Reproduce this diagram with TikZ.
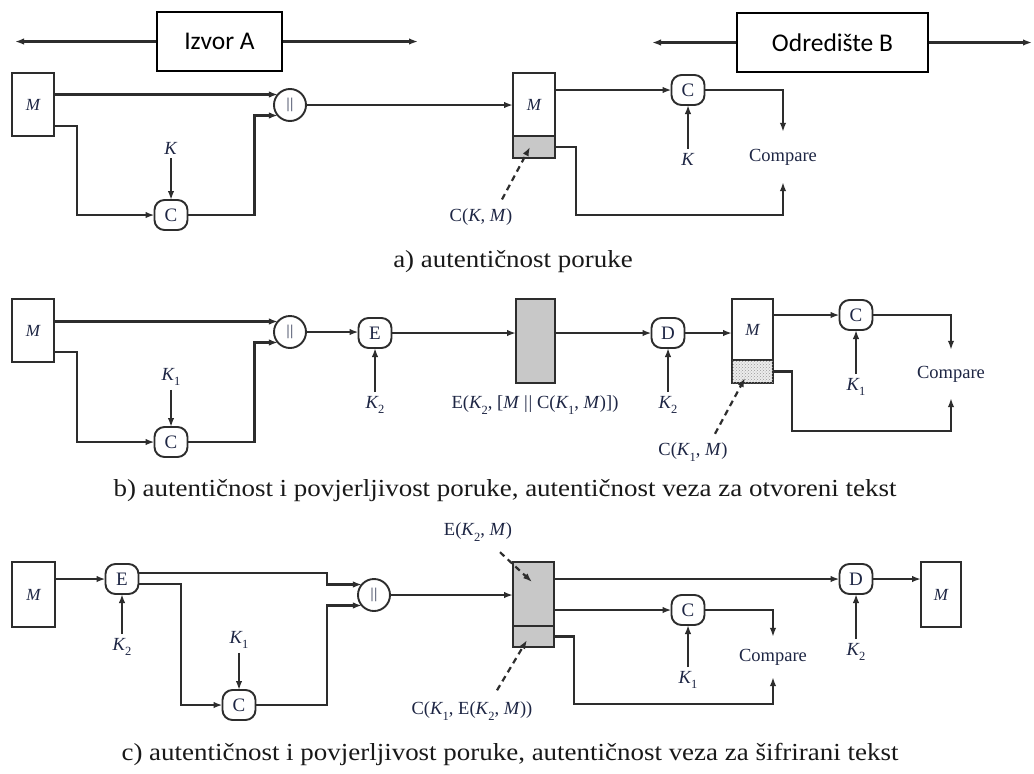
\documentclass[tikz,border=0pt]{standalone}
\usepackage{fontspec}
\setmainfont{Liberation Serif}
\newfontfamily\hdrfont{Carlito}
\newfontfamily\capfont[FakeStretch=1.1]{Liberation Serif}
\usetikzlibrary{arrows.meta,patterns}
\definecolor{ln}{RGB}{45,45,45}
\definecolor{tx}{RGB}{30,38,68}
\definecolor{gr}{RGB}{200,200,200}
\newcommand{\lbl}{\fontsize{18.5}{20}\selectfont}
\newcommand{\sbs}[1]{\raisebox{-0.28em}{\fontsize{12.5}{13}\selectfont #1}}
\newcommand{\Kx}[1]{\textit{K}\kern-0.5pt\sbs{#1}}
\newcommand{\Mi}{\textit{M}}
\newcommand{\bars}{|\kern0.8pt|}
\begin{document}
\begin{tikzpicture}[x=1pt,y=-1pt,
  line/.style={draw=ln,line width=2.2pt},
  arr/.style={line,-{Latex[length=9pt,width=6.5pt]}},
  dsh/.style={arr,dash pattern=on 6pt off 4.5pt},
  msg/.style={draw=ln,line width=1.9pt,fill=white,minimum width=42pt,minimum height=63pt,inner sep=0pt,outer sep=0pt,font=\fontsize{17}{17}\selectfont\itshape,text=tx},
  grbox/.style={draw=ln,line width=1.9pt,fill=gr,inner sep=0pt,outer sep=0pt},
  hatch/.style={draw=ln,line width=1.9pt,fill=gray!15,postaction={pattern=crosshatch dots,pattern color=gray!80},inner sep=0pt,outer sep=0pt},
  opn/.style={draw=ln,line width=1.9pt,rounded corners=10pt,minimum width=33pt,minimum height=30pt,inner sep=0pt,outer sep=0pt,font=\fontsize{19}{19}\selectfont,text=tx},
  cat/.style={circle,draw=ln,line width=1.9pt,minimum size=32pt,inner sep=0pt,outer sep=0pt,font=\fontsize{15}{15}\selectfont,text=tx},
  lab/.style={font=\lbl,text=tx,inner sep=4pt},
  cmp/.style={font=\lbl,text=tx,inner sep=0pt,minimum width=80pt},
  hdr/.style={draw=black,line width=1.8pt,minimum height=59pt,font=\hdrfont\fontsize{25.5}{26}\selectfont,inner sep=0pt},
  captxt/.style={font=\capfont\fontsize{24.5}{26}\selectfont,text=black!90}
]
\useasboundingbox (0,0) rectangle (1034,774);
\fill[white] (0,0) rectangle (1034,774);

% ---------- header
\node[hdr,minimum width=125pt] (A) at (219.5,41.5) {Izvor A};
\coordinate (Al) at (15,41.5);
\coordinate (Ar) at (418,41.5);
\draw[arr] (A.west) -- (Al);
\draw[arr] (A.east) -- (Ar);
\node[hdr,minimum width=191pt] (B) at (832.5,42.5) {Odredište B};
\coordinate (Bl) at (652,42.5);
\coordinate (Br) at (1032,42.5);
\draw[arr] (B.west) -- (Bl);
\draw[arr] (B.east) -- (Br);

% ---------- part a
\node[msg] (Ma) at (33,104.5) {M};
\node[cat] (Pa) at (290,105) {\bars};
\node[opn] (Ca) at (171,215) {C};
\node[lab] (Ka) at (171,148) {\textit{K}};
\node[msg] (Ra) at (534,104.5) {M};
\node[grbox,minimum width=42pt,minimum height=22pt,anchor=north] (Sa) at (Ra.south) {};
\node[opn] (Cb) at (688,90) {C};
\node[lab] (Kb) at (688,159) {\textit{K}};
\node[cmp,minimum height=50pt] (Cmpa) at (783,157) {Compare};
\node[lab] (La) at (481,217) {C(\textit{K}, \Mi)};
\node[captxt] (capa) at (513,262) {a) autentičnost poruke};

\draw[arr] (Ma.east |- Pa.139) -- (Pa.139);
\draw[arr] ([yshift=-21.5pt]Ma.east) -- ++(23,0) |- (Ca.west);
\draw[arr] (Ka) -- (Ca);
\draw[arr] (Ca.east) -- ++(67,0) |- (Pa.221);
\draw[arr] (Pa.east) -- (Pa.east -| Ra.west);
\draw[arr] (Ra.east |- Cb.west) -- (Cb.west);
\draw[arr] (Kb) -- (Cb);
\draw[arr] (Cb.east) -| (Cmpa.north);
\draw[arr] (Sa.east) -- ++(21,0) |- ([yshift=-33pt]Cmpa.south) -- (Cmpa.south);
\draw[dsh] ([xshift=21pt,yshift=5pt]La.north) -- ([xshift=-4pt]Sa.center);

% ---------- part b
\node[msg] (Mb) at (33,330.5) {M};
\node[cat] (Pb) at (290,332) {\bars};
\node[opn] (Cc) at (171,442) {C};
\node[lab] (K1a) at (171,377) {\Kx{1}};
\node[opn] (Eb) at (375,333) {E};
\node[lab] (K2a) at (375,405) {\Kx{2}};
\node[grbox,minimum width=39pt,minimum height=84pt] (Gb) at (535.5,341) {};
\node[lab] (Lb) at (535,405) {E(\Kx{2}, [\Mi\ \bars\ C(\Kx{1}, \Mi)])};
\node[opn] (Db) at (668,333) {D};
\node[lab] (K2b) at (668,405) {\Kx{2}};
\node[msg,minimum width=41pt,minimum height=61pt] (Rb) at (752.5,329.5) {M};
\node[hatch,minimum width=41pt,minimum height=23pt,anchor=north] (Hb) at (Rb.south) {};
\node[opn] (Cd) at (856,315) {C};
\node[lab] (K1b) at (856,387) {\Kx{1}};
\node[cmp,minimum height=48pt] (Cmpb) at (951,374) {Compare};
\node[lab] (Lc) at (693,452) {C(\Kx{1}, \Mi)};
\node[captxt] (capb) at (505,491) {b) autentičnost i povjerljivost poruke, autentičnost veza za otvoreni tekst};

\draw[arr] (Mb.east |- Pb.139) -- (Pb.139);
\draw[arr] ([yshift=-21.5pt]Mb.east) -- ++(23,0) |- (Cc.west);
\draw[arr] (K1a) -- (Cc);
\draw[arr] (Cc.east) -- ++(67,0) |- (Pb.221);
\draw[arr] (Pb.east) -- (Pb.east -| Eb.west);
\draw[arr] (K2a) -- (Eb);
\draw[arr] (Eb.east) -- (Eb.east -| Gb.west);
\draw[arr] (Gb.east |- Db.west) -- (Db.west);
\draw[arr] (K2b) -- (Db);
\draw[arr] (Db.east) -- (Db.east -| Rb.west);
\draw[arr] (Rb.east |- Cd.west) -- (Cd.west);
\draw[arr] (K1b) -- (Cd);
\draw[arr] (Cd.east) -| (Cmpb.north);
\draw[arr] (Hb.east) -- ++(19,0) |- ([yshift=-33pt]Cmpb.south) -- (Cmpb.south);
\draw[dsh] ([xshift=22pt,yshift=5pt]Lc.north) -- ([xshift=-7.5pt,yshift=-6.5pt]Hb.center);

% ---------- part c
\node[msg,minimum width=43pt,minimum height=65pt] (Mc) at (33.5,594.5) {M};
\node[opn] (Ec) at (122,579) {E};
\node[lab] (K2c) at (122,647) {\Kx{2}};
\node[cat] (Pc) at (374,595) {\bars};
\node[opn] (Ce) at (239,705) {C};
\node[lab] (K1c) at (239,640) {\Kx{1}};
\node[grbox,minimum width=41pt,minimum height=64pt] (Gc) at (533.5,594) {};
\node[grbox,minimum width=41pt,minimum height=21pt,anchor=north] (Gd) at (Gc.south) {};
\node[lab] (Ld) at (478,532) {E(\Kx{2}, \Mi)};
\node[lab] (Le) at (472,711) {C(\Kx{1}, E(\Kx{2}, \Mi))};
\node[opn] (Dc) at (856,579) {D};
\node[lab] (K2d) at (856,652) {\Kx{2}};
\node[msg,minimum width=40pt,minimum height=65pt] (Mo) at (941,594.5) {M};
\node[opn] (Cf) at (688,610) {C};
\node[lab] (K1d) at (688,680) {\Kx{1}};
\node[cmp,minimum height=40pt] (Cmpc) at (773,657) {Compare};
\node[captxt] (capc) at (510,754) {c) autentičnost i povjerljivost poruke, autentičnost veza za šifrirani tekst};

\draw[arr] (Mc.east |- Ec.west) -- (Ec.west);
\draw[arr] (K2c) -- (Ec);
\draw[arr] ([yshift=6pt]Ec.east) -- ++(188.5,0) |- (Pc.139);
\draw[arr] ([yshift=-5pt]Ec.east) -- ++(42.5,0) |- (Ce.west);
\draw[arr] (K1c) -- (Ce);
\draw[arr] (Ce.east) -- ++(71.5,0) |- (Pc.221);
\draw[arr] (Pc.east) -- (Pc.east -| Gc.west);
\draw[arr] (Gc.east |- Dc.west) -- (Dc.west);
\draw[arr] (K2d) -- (Dc);
\draw[arr] (Dc.east) -- (Dc.east -| Mo.west);
\draw[arr] (Gc.east |- Cf.west) -- (Cf.west);
\draw[arr] (K1d) -- (Cf);
\draw[arr] (Cf.east) -| (Cmpc.north);
\draw[arr] (Gd.east) -- ++(20,0) |- ([yshift=-27pt]Cmpc.south) -- (Cmpc.south);
\draw[dsh] ([xshift=22pt,yshift=-7pt]Ld.south) -- ([xshift=-1.5pt,yshift=12pt]Gc.center);
\draw[dsh] ([xshift=25pt,yshift=7.5pt]Le.north) -- ([xshift=-6.5pt,yshift=-3.5pt]Gd.center);
\end{tikzpicture}
\end{document}
